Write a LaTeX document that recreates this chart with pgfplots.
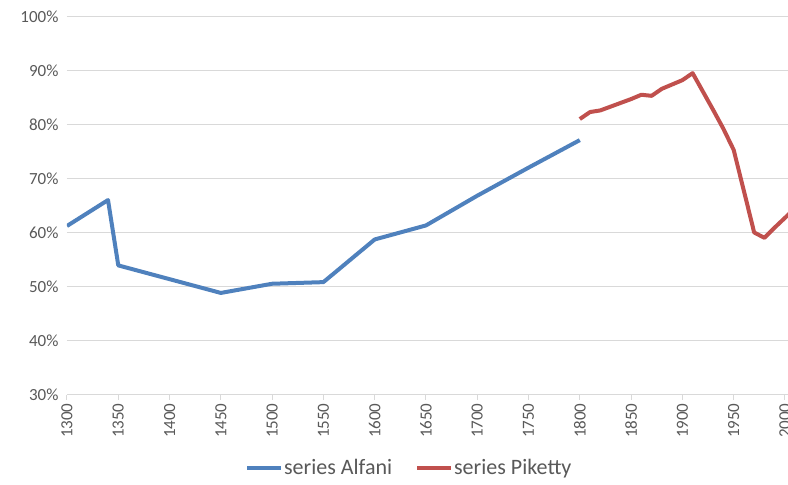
\documentclass[border=0pt]{standalone}
\usepackage{pgfplots}
\pgfplotsset{compat=1.18}
\usepackage{fontspec}
\setmainfont{Carlito}
\definecolor{alf}{HTML}{4F81BD}
\definecolor{pik}{HTML}{C0504D}
\definecolor{gridc}{HTML}{D9D9D9}
\definecolor{lbl}{HTML}{595959}
\begin{document}
\begin{tikzpicture}
\begin{axis}[
  name=ax,
  scale only axis,
  width=721pt, height=378pt,
  xmin=1300, xmax=2003,
  ymin=30, ymax=100,
  ytick={30,40,...,100},
  yticklabel={\pgfmathprintnumber{\tick}\%},
  xtick={1300,1350,...,2000},
  /pgf/number format/1000 sep={},
  /pgf/number format/assume math mode=true,
  xticklabel style={rotate=90, anchor=east, font=\fontsize{17}{20}\selectfont, text=lbl},
  yticklabel style={font=\fontsize{17}{20}\selectfont, text=lbl},
  axis x line*=bottom,
  axis y line*=left,
  y axis line style={draw=none},
  x axis line style={draw=gridc, line width=1pt},
  ytick style={draw=none},
  xtick style={draw=gridc, line width=1pt},
  tick align=outside,
  major tick length=5pt,
  ymajorgrids,
  major grid style={draw=gridc, line width=1pt},
  legend style={at={(0.474,-0.193)}, anchor=center, draw=none,
    font=\fontsize{22}{26}\selectfont, text=lbl,
    /tikz/every even column/.append style={column sep=22pt},
    nodes={inner xsep=1pt}},
  legend columns=2,
  legend image code/.code={\draw[#1, line width=4pt] (0pt,0pt) -- (34pt,0pt);},
  every axis plot/.append style={line width=4pt, line join=round, mark=none},
]
\addplot[color=alf] coordinates {
 (1300,61.3) (1340,66.1) (1350,54.0) (1450,48.9) (1500,50.6) (1550,50.9)
 (1600,58.8) (1650,61.4) (1700,66.9) (1750,72.1) (1800,77.2)
};
\addlegendentry{series Alfani}
\addplot[color=pik] coordinates {
 (1800,81.1) (1810,82.4) (1820,82.7) (1830,83.4) (1840,84.1) (1850,84.8)
 (1860,85.6) (1870,85.4) (1880,86.7) (1890,87.5) (1900,88.3) (1910,89.6)
 (1920,86.2) (1930,82.8) (1940,79.3) (1950,75.4) (1960,67.8) (1970,60.1)
 (1980,59.1) (1990,61.0) (2000,62.8) (2010,64.6)
};
\addlegendentry{series Piketty}
\end{axis}
\pgfresetboundingbox
\path ([shift={(-67pt,-90pt)}]ax.south west) rectangle ([shift={(0pt,17pt)}]ax.north east);
\end{tikzpicture}
\end{document}
